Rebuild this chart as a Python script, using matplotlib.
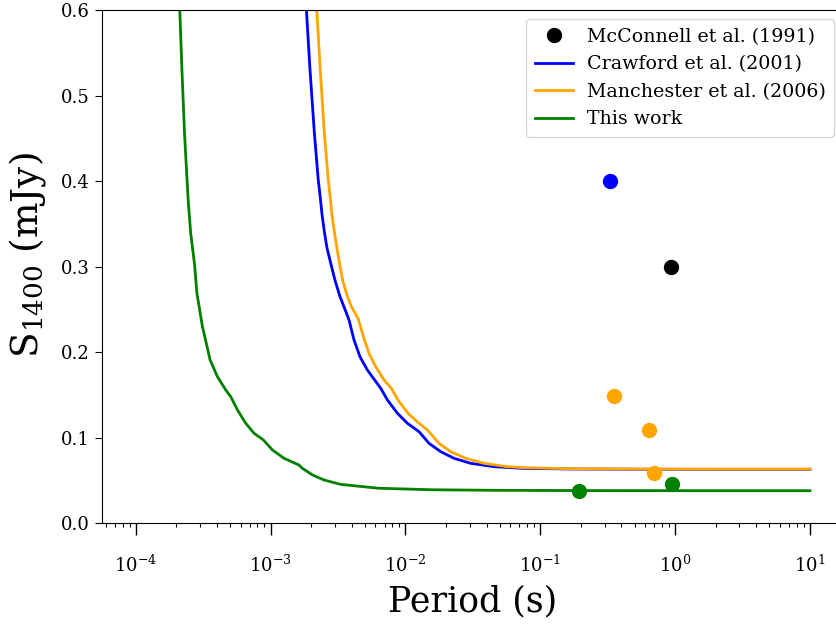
import numpy as np
import matplotlib
matplotlib.use("Agg")
import matplotlib.pyplot as plt

# ---- data ----
# scatter points: period (s), S1400 (mJy)
mcconnell_P = [0.937]
mcconnell_S = [0.300]
crawford_pts_P = [0.327]
crawford_pts_S = [0.400]
manchester_pts_P = [0.352, 0.639, 0.697]
manchester_pts_S = [0.149, 0.109, 0.059]
thiswork_pts_P = [0.194, 0.953]
thiswork_pts_S = [0.038, 0.0456]

# sensitivity curves: log10(period), S1400 (mJy)
crawford_logP = [-2.745, -2.734, -2.709, -2.675, -2.646, -2.632, -2.619, -2.603, -2.583,
                 -2.554, -2.522, -2.485, -2.437, -2.418, -2.381, -2.337, -2.282,
                 -2.228, -2.183, -2.133, -2.059, -1.985, -1.899, -1.825, -1.738,
                 -1.640, -1.516, -1.343, -1.145, -0.8, -0.3, 0.3, 1.0]
crawford_S = [0.66, 0.600, 0.534, 0.456, 0.401, 0.382, 0.362, 0.343, 0.323,
              0.304, 0.284, 0.265, 0.2455, 0.2376, 0.2143, 0.1947, 0.1792,
              0.1675, 0.1578, 0.1441, 0.1286, 0.1169, 0.1071, 0.0935, 0.0837,
              0.0760, 0.0701, 0.0662, 0.0643, 0.0635, 0.0632, 0.0631, 0.0631]

manchester_logP = [-2.668, -2.657, -2.633, -2.601, -2.572, -2.558, -2.546, -2.529, -2.509,
                   -2.489, -2.465, -2.430, -2.400, -2.351, -2.311, -2.270, -2.220,
                   -2.159, -2.104, -2.055, -1.981, -1.899, -1.837, -1.751, -1.664,
                   -1.553, -1.417, -1.244, -1.145, -0.8, -0.3, 0.3, 1.0]
manchester_S = [0.66, 0.600, 0.534, 0.456, 0.401, 0.382, 0.362, 0.343, 0.323,
                0.304, 0.284, 0.265, 0.2532, 0.2396, 0.2181, 0.1987, 0.1831,
                0.1675, 0.1578, 0.1441, 0.1286, 0.1169, 0.1091, 0.0935, 0.0837,
                0.0760, 0.0701, 0.0662, 0.0652, 0.0638, 0.0634, 0.0633, 0.0633]

thiswork_logP = [-3.683, -3.673, -3.658, -3.638, -3.611, -3.592, -3.563, -3.546, -3.505,
                 -3.448, -3.394, -3.332, -3.295, -3.245, -3.184, -3.122, -3.053,
                 -2.986, -2.900, -2.789, -2.764, -2.689, -2.603, -2.480, -2.2,
                 -1.8, -1.3, -0.5, 0.3, 1.0]
thiswork_S = [0.66, 0.600, 0.534, 0.456, 0.378, 0.339, 0.302, 0.269, 0.2298,
              0.1909, 0.1714, 0.1558, 0.148, 0.1324, 0.1169, 0.1052, 0.0974,
              0.0857, 0.0760, 0.0681, 0.0643, 0.0565, 0.0506, 0.0455, 0.0410,
              0.0392, 0.0385, 0.0382, 0.0381, 0.0381]

labels = ["McConnell et al. (1991)", "Crawford et al. (2001)",
          "Manchester et al. (2006)", "This work"]

# ---- fonts ----
plt.rcParams['font.family'] = 'DejaVu Serif'
plt.rcParams['mathtext.fontset'] = 'dejavuserif'

fig = plt.figure(figsize=(8.37, 6.26), dpi=100)
ax = fig.add_axes([101.7/837, (626-523.3)/626, (843.7-101.7)/837, (523.3-10)/626])

lw = 2.0
ax.plot(10**np.array(crawford_logP), crawford_S, color='blue', lw=lw, label=labels[1])
ax.plot(10**np.array(manchester_logP), manchester_S, color='orange', lw=lw, label=labels[2])
ax.plot(10**np.array(thiswork_logP), thiswork_S, color='green', lw=lw, label=labels[3])

ms = 10
ax.plot(mcconnell_P, mcconnell_S, 'o', color='black', ms=ms, label=labels[0], zorder=5)
ax.plot(crawford_pts_P, crawford_pts_S, 'o', color='blue', ms=ms, zorder=5)
ax.plot(manchester_pts_P, manchester_pts_S, 'o', color='orange', ms=ms, zorder=5)
ax.plot(thiswork_pts_P, thiswork_pts_S, 'o', color='green', ms=ms, zorder=5)

ax.set_xscale('log')
ax.set_xlim(10**-4.252, 10**1.25)
ax.set_ylim(0, 0.6)
ax.set_yticks([0.0, 0.1, 0.2, 0.3, 0.4, 0.5, 0.6])

ax.tick_params(axis='x', which='major', length=8.5, width=1.0, labelsize=13, pad=14)
ax.tick_params(axis='x', which='minor', length=3, width=0.8)
ax.tick_params(axis='y', which='major', length=4.8, labelsize=13, pad=4)

ax.set_xlabel("Period (s)", fontsize=25, labelpad=6)
ax.set_ylabel(r"S$_{1400}$ (mJy)", fontsize=27)
ax.yaxis.set_label_coords(-0.0724, 0.523)

h, l = ax.get_legend_handles_labels()
order = [3, 0, 1, 2]
ax.legend([h[i] for i in order], [l[i] for i in order], loc='upper right',
          bbox_to_anchor=(834/837, (626-19.3)/626), bbox_transform=fig.transFigure,
          fontsize=13.7, borderaxespad=0, labelspacing=0.5, handletextpad=0.73,
          borderpad=0.45, framealpha=0.8)

fig.savefig("out.png", dpi=100)
